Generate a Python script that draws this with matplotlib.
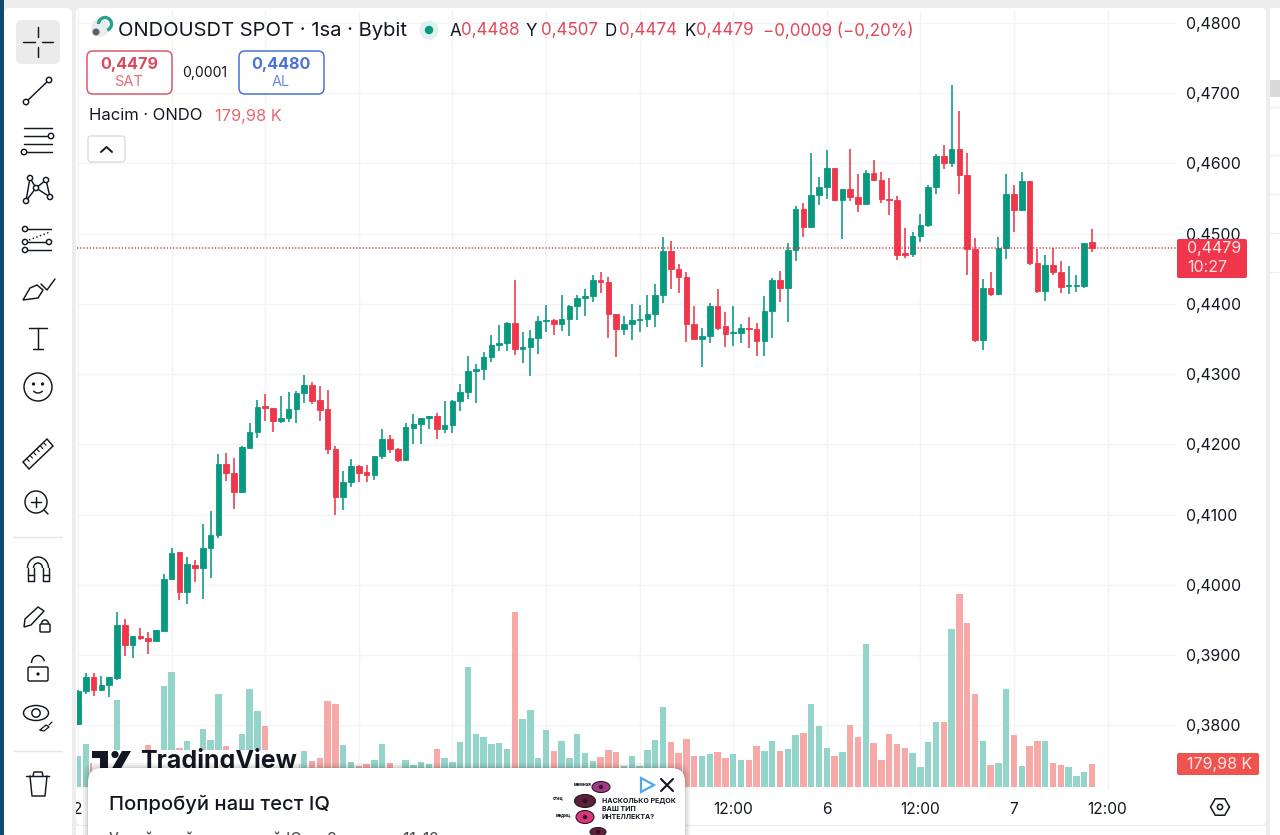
import numpy as np
import matplotlib
matplotlib.use("Agg")
import matplotlib.pyplot as plt
from matplotlib.patches import FancyBboxPatch, Rectangle, Circle, Polygon, Arc, Ellipse

plt.rcParams['font.family'] = ['Inter', 'DejaVu Sans']

opens = [.3801,.3848,.3868,.3850,.3857,.3867,.3943,.3914,.3927,.3924,.3920,.3934,.4008,.4046,.3990,.4028,.4024,.4053,.4071,.4172,
         .4159,.4132,.4195,.4217,.4254,.4252,.4233,.4238,.4251,.4273,.4284,.4263,.4250,.4193,.4125,.4147,.4169,.4160,.4156,.4183,
         .4207,.4193,.4178,.4223,.4229,.4237,.4240,.4222,.4227,.4262,.4274,.4304,.4307,.4324,.4341,.4344,.4373,.4336,.4339,.4352,
         .4375,.4377,.4371,.4378,.4397,.4408,.4411,.4434,.4431,.4386,.4364,.4371,.4377,.4378,.4385,.4413,.4476,.4450,.4438,.4372,
         .4350,.4354,.4397,.4368,.4359,.4359,.4365,.4364,.4347,.4390,.4434,.4423,.4477,.4535,.4509,.4555,.4567,.4593,.4548,.4563,
         .4552,.4542,.4587,.4577,.4550,.4548,.4472,.4471,.4496,.4512,.4566,.4610,.4601,.4620,.4583,.4478,.4349,.4422,.4414,.4480,
         .4556,.4534,.4575,.4458,.4418,.4455,.4446,.4425,.4425,.4425,.4488]
highs = [.3850,.3875,.3874,.3870,.3869,.3961,.3951,.3927,.3939,.3933,.3936,.4015,.4053,.4046,.4039,.4035,.4086,.4105,.4186,.4188,
         .4180,.4198,.4231,.4263,.4272,.4252,.4269,.4275,.4276,.4299,.4289,.4283,.4278,.4198,.4162,.4179,.4171,.4170,.4183,.4222,
         .4213,.4195,.4231,.4243,.4237,.4240,.4245,.4261,.4263,.4286,.4326,.4315,.4332,.4355,.4370,.4374,.4434,.4360,.4363,.4383,
         .4398,.4378,.4412,.4398,.4412,.4421,.4441,.4446,.4438,.4386,.4383,.4400,.4398,.4413,.4429,.4495,.4490,.4457,.4445,.4397,
         .4365,.4401,.4421,.4389,.4397,.4371,.4381,.4373,.4411,.4437,.4447,.4487,.4540,.4544,.4615,.4580,.4619,.4593,.4563,.4620,
         .4585,.4591,.4605,.4588,.4579,.4553,.4508,.4503,.4528,.4570,.4614,.4626,.4711,.4674,.4615,.4494,.4435,.4446,.4495,.4585,
         .4569,.4588,.4575,.4478,.4469,.4479,.4461,.4454,.4441,.4487,.4507]
lows = [.3800,.3844,.3841,.3850,.3840,.3865,.3898,.3896,.3921,.3901,.3920,.3934,.4008,.3979,.3973,.4004,.3980,.4009,.4066,.4148,
        .4108,.4130,.4195,.4209,.4233,.4218,.4231,.4232,.4230,.4259,.4257,.4233,.4186,.4100,.4106,.4139,.4146,.4147,.4149,.4179,
        .4188,.4175,.4177,.4201,.4201,.4222,.4207,.4216,.4216,.4248,.4264,.4259,.4291,.4317,.4333,.4333,.4327,.4316,.4297,.4328,
        .4360,.4355,.4362,.4354,.4377,.4383,.4403,.4415,.4352,.4325,.4355,.4348,.4360,.4367,.4367,.4401,.4421,.4416,.4346,.4350,
        .4310,.4345,.4363,.4339,.4340,.4345,.4337,.4326,.4326,.4352,.4402,.4374,.4461,.4495,.4508,.4541,.4550,.4546,.4492,.4546,
        .4531,.4542,.4575,.4543,.4526,.4463,.4466,.4467,.4488,.4509,.4557,.4592,.4595,.4557,.4441,.4346,.4334,.4411,.4413,.4464,
        .4503,.4533,.4456,.4416,.4404,.4441,.4415,.4414,.4417,.4422,.4474]
closes = [.3848,.3868,.3850,.3857,.3868,.3943,.3914,.3927,.3924,.3920,.3935,.4008,.4045,.3990,.4029,.4024,.4053,.4071,.4172,.4159,
          .4132,.4196,.4217,.4253,.4252,.4233,.4238,.4251,.4273,.4284,.4262,.4249,.4193,.4125,.4147,.4169,.4159,.4156,.4183,.4207,
          .4193,.4177,.4224,.4229,.4237,.4240,.4222,.4227,.4262,.4274,.4304,.4307,.4324,.4341,.4344,.4373,.4336,.4339,.4352,.4375,
          .4377,.4371,.4378,.4397,.4408,.4411,.4434,.4431,.4385,.4364,.4371,.4377,.4378,.4385,.4413,.4476,.4450,.4438,.4372,.4350,
          .4354,.4397,.4366,.4357,.4360,.4365,.4364,.4347,.4390,.4434,.4423,.4477,.4535,.4509,.4555,.4567,.4593,.4548,.4563,.4552,
          .4542,.4587,.4577,.4550,.4548,.4469,.4470,.4496,.4512,.4566,.4610,.4601,.4620,.4583,.4478,.4349,.4422,.4414,.4480,.4556,
          .4534,.4575,.4458,.4418,.4455,.4446,.4424,.4427,.4427,.4487,.4479]
volumes_k = [239,329,183,150,150,672,200,200,180,322,200,782,885,298,352,200,445,363,715,316,
             200,407,756,587,468,200,260,180,180,280,200,221,664,641,324,196,162,180,206,332,
             185,130,208,167,190,180,293,226,193,345,929,407,386,332,342,293,1348,522,597,224,
             443,278,355,226,407,262,203,234,283,273,160,242,160,288,365,618,350,265,373,239,
             242,257,270,226,257,211,211,314,280,355,280,296,399,414,641,471,304,242,273,481,
             386,1104,340,211,412,329,304,265,157,347,499,499,1217,1492,1268,720,355,172,185,759,
             399,165,314,358,355,185,170,152,87,118,179.98]
price_ticks = [.38,.39,.40,.41,.42,.43,.44,.45,.46,.47,.48]
time_tick_pos = [0,12,24,36,48,60,72,84,96,108,120,132]
# the ticks between the first and "12:00" before "6" sit behind the ad popup in the reference
time_tick_labels = ['2','','','','','','','12:00','6','12:00','7','12:00']

GREEN, RED = '#089981', '#F0364A'
VGREEN, VRED = '#95D4CB', '#F7A9A7'
INK = '#131722'
W, H = 1280, 835

fig = plt.figure(figsize=(W/100, H/100), dpi=100, facecolor='#EDEDED')

def rect_px(x0, y0, x1, y1):
    return [x0/W, 1-y1/H, (x1-x0)/W, (y1-y0)/H]

# background chrome
bg = fig.add_axes([0,0,1,1], zorder=0); bg.set_xlim(0,W); bg.set_ylim(H,0); bg.axis('off')
bg.add_patch(Rectangle((0,0),4,H,color='#124A6B',lw=0))
bg.add_patch(FancyBboxPatch((8,12),60,H,boxstyle='round,pad=4,rounding_size=6',fc='white',ec='none'))
bg.add_patch(FancyBboxPatch((80,12),1182,809,boxstyle='round,pad=4,rounding_size=5',fc='white',ec='none'))
bg.add_patch(Rectangle((76,826),1190,9,color='white',lw=0))
bg.add_patch(Rectangle((1270,8),10,H,color='white',lw=0))
bg.add_patch(Rectangle((1270,80),10,17,color='#DADADA',lw=0))
for yy in (107,155,194,233,272):
    bg.plot([1270,1280],[yy,yy],color='#F0F0F0',lw=1)

px_per_price = 7022.0
x_lim = (-1/7.8, (1177-78)/7.8)
y_lim = (0.48-(790-23)/px_per_price, 0.48+(23-10)/px_per_price)
pos = rect_px(77,10,1177,790)

# grid and axis labels
ag = fig.add_axes(pos, zorder=1, facecolor='none')
ag.set_xlim(*x_lim); ag.set_ylim(*y_lim)
ag.yaxis.tick_right()
ag.set_yticks(price_ticks)
ag.set_yticklabels([f'{p:.4f}'.replace('.',',') for p in price_ticks], fontsize=11.4, color=INK)
ag.set_xticks(time_tick_pos)
ag.set_xticklabels(time_tick_labels, fontsize=11.2, color=INK)
ag.tick_params(axis='both', length=0)
ag.tick_params(axis='y', pad=6.8)
ag.tick_params(axis='x', pad=8.5)
ag.grid(True, color='#F3F4F6', lw=1)
for s in ag.spines.values():
    s.set_visible(False)

# volume
av = fig.add_axes(pos, zorder=2, facecolor='none')
vol_k_per_px = 7.72
av.set_xlim(*x_lim); av.set_ylim(-3*vol_k_per_px, 777*vol_k_per_px); av.axis('off')
idx = np.arange(len(closes))
o, h, l, c = map(np.array, (opens, highs, lows, closes))
up = c >= o
av.bar(idx, volumes_k, width=0.84, color=[VGREEN if u else VRED for u in up], lw=0)

# candles
ap = fig.add_axes(pos, zorder=3, facecolor='none')
ap.set_xlim(*x_lim); ap.set_ylim(*y_lim); ap.axis('off')
cols = np.where(up, GREEN, RED)
ap.vlines(idx, l, h, colors=cols, lw=1.15)
ap.bar(idx, np.abs(c-o), bottom=np.minimum(o,c), width=0.72, color=cols, edgecolor=cols, lw=0.6)
ap.axhline(closes[-1], color='#D63548', lw=1.1, ls=(0,(0.8,1.3)))

# overlay chrome
ov = fig.add_axes([0,0,1,1], zorder=5, facecolor='none')
ov.set_xlim(0,W); ov.set_ylim(H,0); ov.axis('off')

def T(x, y, s, px=14, color=INK, ha='left', va='center', weight='normal', zorder=10):
    return ov.text(x, y, s, fontsize=px*0.72, color=color, ha=ha, va=va, weight=weight, zorder=zorder)

def L(pts, lw=1.05, color=INK, ls='-', zorder=8):
    xs, ys = zip(*pts)
    ov.plot(xs, ys, color=color, lw=lw, ls=ls, zorder=zorder, solid_capstyle='round')

def C(x, y, r, lw=1.05, ec=INK, fc='white', zorder=9):
    ov.add_patch(Circle((x,y), r, fc=fc, ec=ec, lw=lw, zorder=zorder))

def RB(x0, y0, x1, y1, r, fc='white', ec='none', lw=1, zorder=8):
    ov.add_patch(FancyBboxPatch((x0+r,y0+r),x1-x0-2*r,y1-y0-2*r,boxstyle=f'round,pad={r},rounding_size={r}',
                                fc=fc,ec=ec,lw=lw,zorder=zorder))

# left gutter hides the clipped day label
ov.add_patch(Rectangle((72,10),4,825,color='#EDEDED',lw=0,zorder=7))

# toolbar
RB(16,20,60,64,6,fc='#EBEBEB',zorder=7)
L([(23,42),(35,42)]); L([(42,42),(53,42)]); L([(38,27),(38,37)]); L([(38,47),(38,57)])
L([(26,102),(49,80)]); C(26,102,2.7); C(49,80,2.7)
for yy in (128,136,144,152): L([(24,yy),(52,yy)])
C(51,136,2.7); C(24,152,2.7)
L([(26,201),(30,178),(36,188),(46,180),(50,197),(36,188),(26,201)])
for p in [(30,178),(46,180),(36,188),(26,201),(50,197)]: C(*p,2.6)
L([(27,229),(51,229)]); L([(27,242),(48,242)]); L([(27,250),(51,250)]); L([(29,240),(50,232)],ls=':')
for p in [(25,229),(25,242),(49,242),(25,250)]: C(*p,2.6)
ov.add_patch(Polygon([(23,300),(38,298),(43,290),(37,285),(30,288)],closed=True,fc='white',ec=INK,lw=1.05,zorder=8))
L([(41,284),(47,290),(55,279)])
L([(29,328),(47,328)]); L([(38,328),(38,349)]); L([(33,349),(43,349)])
C(38,387,14); C(33.5,384,.9,fc=INK); C(42.5,384,.9,fc=INK)
ov.add_patch(Arc((38,389),10,8,theta1=20,theta2=160,ec=INK,lw=1.05,zorder=9))
ov.add_patch(Polygon([(23,462),(47,439),(53,446),(29,469)],closed=True,fc='white',ec=INK,lw=1.05,zorder=8))
for t in np.linspace(.15,.85,6):
    a=(23+24*t,462-23*t); L([a,(a[0]+2.6,a[1]+2.8)],lw=.8)
C(36,502,11,fc='none'); L([(36,497),(36,507)]); L([(31,502),(41,502)]); L([(44,510),(48,514)])
L([(13,537),(62,537)],color='#E6E6E6'); L([(13,751),(62,751)],color='#E6E6E6')
ov.add_patch(Arc((38,568),21,22,theta1=180,theta2=360,ec=INK,lw=1.05,zorder=9))
ov.add_patch(Arc((38,568),9,10,theta1=180,theta2=360,ec=INK,lw=1.05,zorder=9))
L([(27.5,568),(27.5,581),(33.5,581),(33.5,568)]); L([(42.5,568),(42.5,581),(48.5,581),(48.5,568)])
L([(27.5,575),(33.5,575)]); L([(42.5,575),(48.5,575)])
ov.add_patch(Polygon([(24,627),(25,619),(38,607),(44,611),(31,625)],closed=True,fc='white',ec=INK,lw=1.05,zorder=8))
RB(40,624,50,632,1,ec=INK,lw=1.05,zorder=9)
ov.add_patch(Arc((45,624),7,8,theta1=180,theta2=360,ec=INK,lw=1.05,zorder=9))
RB(28,667,48,681,1.5,ec=INK,lw=1.05)
ov.add_patch(Arc((38,663),13,15,theta1=180,theta2=345,ec=INK,lw=1.05,zorder=9))
C(38,674,.9,fc=INK)
ov.add_patch(Ellipse((36,713),25,15,fc='white',ec=INK,lw=1.05,zorder=8)); C(36,713,4.2)
L([(40,730),(46,725),(49,727),(44,731),(40,730)],lw=.9); L([(49,725),(52,722)],lw=.9)
L([(26,776),(49,776)]); L([(30,776),(32,796),(45,796),(47,776)])
L([(33,776),(34,772),(42,772),(43,776)])

# header
C(100,28,9.0,fc='#E9ECEF',ec='none')
ov.add_patch(Arc((105,24),13,13,theta1=180,theta2=70,ec='#27A08F',lw=2.4,zorder=10))
C(96,32,3.5,fc='#59606C',ec='none',zorder=11)
T(118,31,'ONDOUSDT SPOT · 1sa · Bybit',px=20.2)
C(429,30,9.5,fc='#DDF1ED',ec='none'); C(429,30,4.2,fc=GREEN,ec='none',zorder=10)
TRED='#E2475B'
for x,s,col in [(450,'A',INK),(461,'0,4488',TRED),(526,'Y',INK),(541,'0,4507',TRED),(604,'D',INK),(619,'0,4474',TRED),
                (685,'K',INK),(696,'0,4479',TRED),(763,'−0,0009 (−0,20%)',TRED)]:
    T(x,31,s,px=17.0,color=col)
RB(87,51,172,94,6,ec='#DD5A68',lw=1.1)
T(129,64,'0,4479',px=16.2,color='#D94A5C',ha='center',weight='bold')
T(129,82,'SAT',px=14.5,color='#E0707A',ha='center')
T(205,73,'0,0001',px=14,ha='center')
RB(239,51,324,94,6,ec='#4A72D8',lw=1.1)
T(281,64,'0,4480',px=16.2,color='#4A72D8',ha='center',weight='bold')
T(281,82,'AL',px=14.5,color='#6C8DDF',ha='center')
T(89,116,'Hacim · ONDO',px=16.6)
T(215,116,'179,98 K',px=16.4,color='#E5686E')
RB(88,136,125,162,3,ec='#DADCE0',lw=1)
L([(101,152),(106.5,147),(112,152)],lw=1.4)

# right axis labels
RB(1177,239,1247,278,2,fc=RED,zorder=8)
T(1187,249,'0,4479',px=16,color='#FFE7E8')
T(1187,267,'10:27',px=16,color='#FFE0E2')
RB(1177,753,1259,775,2,fc='#EF5350',zorder=8)
T(1187,764,'179,98 K',px=16,color='#FFE7E8')
ang=np.deg2rad(np.arange(0,361,60))
L(list(zip(1220+9.5*np.cos(ang),807+9.5*np.sin(ang))),lw=1.1); C(1220,807,2.6,lw=1.1)
L([(685,825),(1266,825)],color='#EEEEEE',zorder=6)

# TradingView watermark
ov.add_patch(Rectangle((92,750),207,22,fc='white',ec='none',zorder=10))
LOGO='#131722'
ov.add_patch(Polygon([(92,751),(108,751),(108,770),(100,770),(100,758),(92,758)],closed=True,fc=LOGO,ec='none',zorder=11))
ov.add_patch(Circle((115,754.5),3.6,fc=LOGO,ec='none',zorder=11))
ov.add_patch(Polygon([(122,751),(131,751),(119,772),(110,772)],closed=True,fc=LOGO,ec='none',zorder=11))
T(140,760.5,'TradingView',px=25,color=LOGO,weight='bold',zorder=11)

# ad popup
for grow,a in ((5,.05),(3,.06),(1,.08)):
    RB(88-grow,768-grow,685+grow,860,14,fc='#000000',zorder=11)
    ov.patches[-1].set_alpha(a)
RB(88,768,685,860,14,fc='white',zorder=12)
T(109,804,'Попробуй наш тест IQ',px=20.2,weight='medium',zorder=13)
T(109,839,'Узнай свой настоящий IQ за 3 минуты 11-12',px=15.5,color='#444444',zorder=13)
for (x,y,rx,ry,c1) in [(601,787,18,11,'#A33A8C'),(585,801,21,13,'#5A2238'),(585,817,18,13,'#D6377F'),(598,832,16,9,'#5F2238')]:
    ov.add_patch(Ellipse((x,y),rx,ry,fc=c1,ec='#2A1A20',lw=.8,zorder=13))
    ov.add_patch(Circle((x,y),2.2,fc='#30101E',ec='none',zorder=14))
T(574,785,'мемная',px=4.5,ha='left',weight='bold',zorder=13)
T(553,798,'отец',px=4.5,weight='bold',zorder=13)
T(556,816,'медиц.',px=4.5,weight='bold',zorder=13)
for y,s in [(801,'НАСКОЛЬКО РЕДОК'),(809,'ВАШ ТИП'),(817,'ИНТЕЛЛЕКТА?')]:
    T(602,y,s,px=7,weight='bold',zorder=14)
ov.add_patch(Polygon([(641,778),(654,785),(641,792)],closed=True,fc='none',ec='#4FA8EE',lw=1.6,zorder=14))
L([(661,779),(673,791)],lw=1.5,zorder=14); L([(673,779),(661,791)],lw=1.5,zorder=14)

fig.savefig('out.png', dpi=100, facecolor=fig.get_facecolor())
